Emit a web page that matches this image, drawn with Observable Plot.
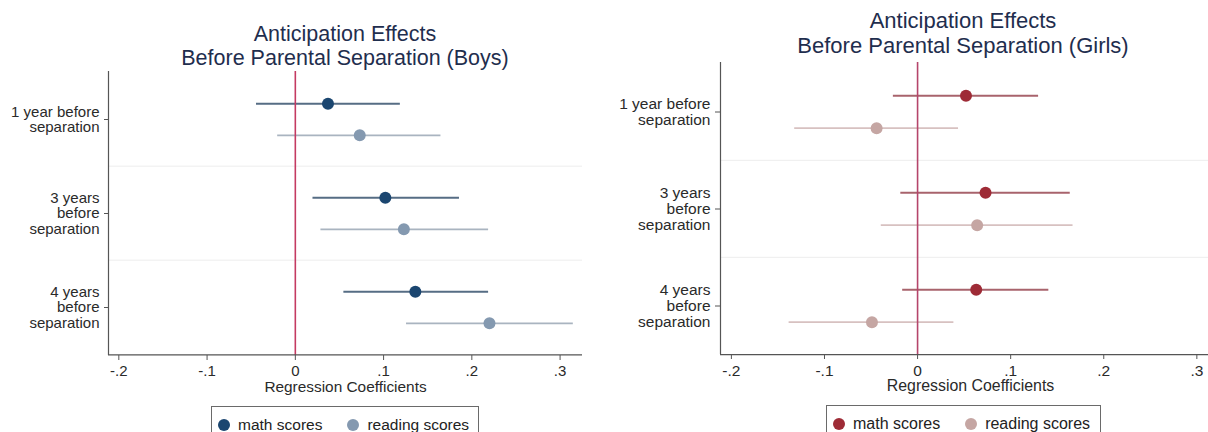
<!DOCTYPE html>
<html>
<head>
<meta charset="utf-8">
<script src="https://cdn.jsdelivr.net/npm/d3@7"></script>
<script src="https://cdn.jsdelivr.net/npm/@observablehq/plot@0.6"></script>
<style>
  html, body { margin: 0; padding: 0; background: #fff; }
  body { width: 1208px; height: 432px; overflow: hidden; position: relative;
         font-family: "Liberation Sans", Arial, sans-serif; }
  .title { position: absolute; text-align: center; color: #1f2e4e; white-space: nowrap; }
  .plot { position: absolute; }
  .plot svg { max-width: none !important; display: block; }
  .legend { position: absolute; border: 1px solid #6a6a6a; box-sizing: border-box; display: flex;
            color: #222; white-space: nowrap; }
  .legend .dot { display: inline-block; width: 12px; height: 12px; border-radius: 50%; margin-right: 8px; }
  .legend .item { display: flex; align-items: center; }
</style>
</head>
<body>
<div id="boys-title" class="title"></div>
<div id="boys-plot" class="plot"></div>
<div id="boys-legend" class="legend"></div>
<div id="girls-title" class="title"></div>
<div id="girls-plot" class="plot"></div>
<div id="girls-legend" class="legend"></div>
<script>
// Periods before the separation (y categories)
const categories = ["1 year before\nseparation", "3 years\nbefore\nseparation", "4 years\nbefore\nseparation"];
const seriesNames = ["math scores", "reading scores"];

// Boys: point estimates and 95% confidence bounds
const boysMath = [0.037, 0.102, 0.136];
const boysMathLo = [-0.044, 0.020, 0.055];
const boysMathHi = [0.119, 0.186, 0.219];
const boysRead = [0.073, 0.123, 0.220];
const boysReadLo = [-0.020, 0.029, 0.126];
const boysReadHi = [0.165, 0.219, 0.315];

// Girls: point estimates and 95% confidence bounds
const girlsMath = [0.052, 0.073, 0.063];
const girlsMathLo = [-0.026, -0.018, -0.016];
const girlsMathHi = [0.130, 0.164, 0.141];
const girlsRead = [-0.044, 0.064, -0.049];
const girlsReadLo = [-0.132, -0.039, -0.138];
const girlsReadHi = [0.044, 0.167, 0.039];

// x axis
const xTicks = [-0.2, -0.1, 0, 0.1, 0.2, 0.3];
const xTickLabels = ["-.2", "-.1", "0", ".1", ".2", ".3"];
const xDomain = [-0.2117, 0.3254];
const xTitle = "Regression Coefficients";

function toRows(est, lo, hi, series) {
  return categories.map((c, i) => ({category: c, series, est: est[i], lo: lo[i], hi: hi[i]}));
}

function drawPanel(cfg) {
  const rows = [
    ...toRows(cfg.math, cfg.mathLo, cfg.mathHi, seriesNames[0]),
    ...toRows(cfg.read, cfg.readLo, cfg.readHi, seriesNames[1])
  ];
  const band = (cfg.height - cfg.marginTop - cfg.marginBottom) / categories.length;
  const off = band / 6;
  const axisColor = "#555";

  // confidence intervals, then the estimates on top
  const ciMarks = seriesNames.map((s, k) => {
    const data = rows.filter(d => d.series === s);
    return Plot.ruleY(data, {y: "category", x1: "lo", x2: "hi", dy: k === 0 ? -off : off,
                             stroke: cfg.colors[k].line, strokeWidth: k === 0 ? 2 : 1.8});
  });
  const dotMarks = seriesNames.map((s, k) => {
    const data = rows.filter(d => d.series === s);
    return Plot.dot(data, {x: "est", y: "category", dy: k === 0 ? -off : off, r: 6,
                           fill: cfg.colors[k].dot, stroke: "none"});
  });

  const chart = Plot.plot({
    width: cfg.width,
    height: cfg.height,
    marginLeft: cfg.marginLeft,
    marginRight: cfg.marginRight,
    marginTop: cfg.marginTop,
    marginBottom: cfg.marginBottom,
    style: {fontFamily: '"Liberation Sans", Arial, sans-serif', background: "transparent", overflow: "visible"},
    x: {domain: xDomain},
    y: {domain: categories, type: "band", padding: 0},
    marks: [
      // separators between periods
      Plot.ruleY(categories.slice(1), {y: d => d, dy: -band / 2, stroke: "#ededed", strokeWidth: 1}),
      ...ciMarks,
      Plot.ruleX([0], {stroke: cfg.refColor, strokeWidth: 1.6}),
      ...dotMarks,
      // axis lines
      Plot.ruleX([xDomain[0]], {stroke: axisColor, strokeWidth: 1.2}),
      Plot.ruleY([categories[categories.length - 1]], {y: d => d, dy: band / 2, stroke: axisColor, strokeWidth: 1.2}),
      Plot.axisY({tickSize: cfg.yTickSize, tickPadding: 5, fontSize: cfg.fontSize, lineHeight: 1.02,
                  stroke: axisColor, fill: "#2a2a2a", label: null}),
      Plot.axisX({ticks: xTicks, tickFormat: d => xTickLabels[xTicks.indexOf(d)], tickSize: 5, tickPadding: 5,
                  fontSize: cfg.fontSize, stroke: axisColor, fill: "#2a2a2a", label: null}),
      Plot.text([xTitle], {text: d => d, frameAnchor: "bottom", dy: 36, fontSize: cfg.fontSize + 0.4, fill: "#2a2a2a"})
    ]
  });

  const holder = document.getElementById(cfg.id + "-plot");
  holder.style.left = cfg.left + "px";
  holder.style.top = cfg.top + "px";
  holder.style.width = cfg.width + "px";
  holder.style.height = cfg.height + "px";
  holder.appendChild(chart);

  const title = document.getElementById(cfg.id + "-title");
  title.style.left = (cfg.titleCenter - 250) + "px";
  title.style.width = "500px";
  title.style.top = cfg.titleTop + "px";
  title.style.fontSize = cfg.titleSize + "px";
  title.style.lineHeight = cfg.titleLine + "px";
  title.innerHTML = cfg.title.map(t => `<div>${t}</div>`).join("");

  const legend = document.getElementById(cfg.id + "-legend");
  legend.style.left = cfg.legend.left + "px";
  legend.style.top = cfg.legend.top + "px";
  legend.style.width = cfg.legend.width + "px";
  legend.style.height = "34px";
  legend.style.fontSize = cfg.fontSize + 0.5 + "px";
  legend.style.paddingLeft = "6px";
  legend.style.paddingTop = "4px";
  legend.innerHTML = seriesNames.map((s, k) =>
    `<span class="item" style="margin-right:${k === 0 ? 25 : 0}px"><span class="dot" style="background:${cfg.colors[k].dot}"></span>${s}</span>`
  ).join("");
}

drawPanel({
  id: "boys",
  left: 0, top: 60, width: 604, height: 340,
  marginLeft: 108, marginRight: 22, marginTop: 11, marginBottom: 45,
  yTickSize: 4, fontSize: 15,
  title: ["Anticipation Effects", "Before Parental Separation (Boys)"],
  titleCenter: 345, titleTop: 22, titleSize: 21.5, titleLine: 24,
  math: boysMath, mathLo: boysMathLo, mathHi: boysMathHi,
  read: boysRead, readLo: boysReadLo, readHi: boysReadHi,
  colors: [{dot: "#1b4670", line: "#566d84"}, {dot: "#8499b0", line: "#a9b4c0"}],
  refColor: "#c43a62",
  legend: {left: 211, top: 406, width: 268}
});

drawPanel({
  id: "girls",
  left: 604, top: 50, width: 640, height: 349,
  marginLeft: 116, marginRight: 24, marginTop: 12, marginBottom: 45,
  yTickSize: 5, fontSize: 15.5,
  title: ["Anticipation Effects", "Before Parental Separation (Girls)"],
  titleCenter: 963, titleTop: 9, titleSize: 22, titleLine: 24.5,
  math: girlsMath, mathLo: girlsMathLo, mathHi: girlsMathHi,
  read: girlsRead, readLo: girlsReadLo, readHi: girlsReadHi,
  colors: [{dot: "#9e2b36", line: "#a8636c"}, {dot: "#c5a6a3", line: "#d7c1c0"}],
  refColor: "#b5456b",
  legend: {left: 826, top: 405, width: 275}
});
</script>
</body>
</html>
